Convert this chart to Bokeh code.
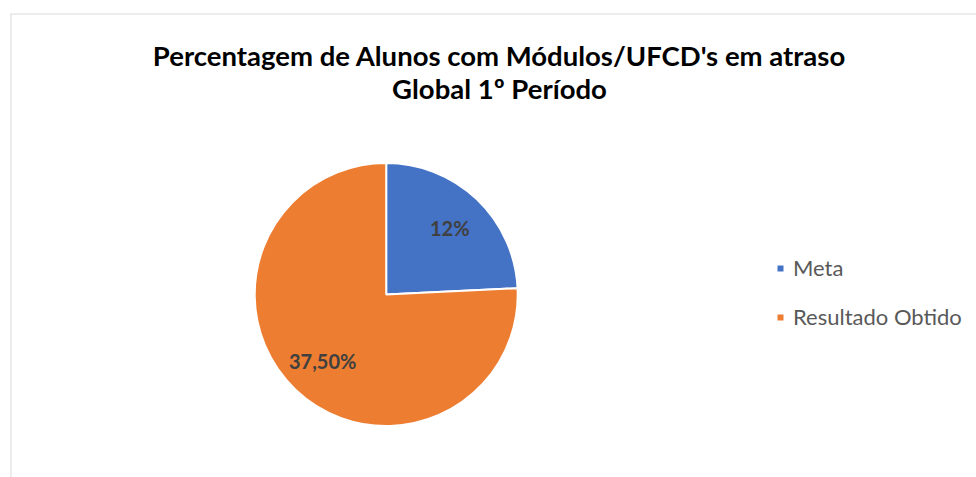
import math
from bokeh.plotting import figure
from bokeh.models import ColumnDataSource, Range1d, Legend, LegendItem, Label, Span
from bokeh.core.properties import value
from bokeh.embed import file_html
from bokeh.resources import INLINE

# ---- data ----
categories = ["Meta", "Resultado Obtido"]
values = [12, 37.5]
labels = ["12%", "37,50%"]
colors = ["#4472C4", "#ED7D31"]
title_lines = ["Percentagem de Alunos com Módulos/UFCD's em atraso", "Global 1º Período"]

FONT = "Lato"
W, H = 976, 477
ML, MT = 10, 13
FW, FH = W - ML, H - MT

p = figure(width=W, height=H, output_backend="svg", toolbar_location=None,
           x_range=Range1d(0, FW), y_range=Range1d(0, FH),
           x_axis_location=None, y_axis_location=None,
           min_border_left=ML, min_border_top=MT, min_border_right=0, min_border_bottom=0)
p.grid.visible = False
p.outline_line_color = None
p.background_fill_color = "white"
p.border_fill_color = "white"

# chart-area border (only left and top edges are visible in the crop)
p.add_layout(Span(location=0, dimension="height", line_color="#d9d9d9", line_width=2))
p.add_layout(Span(location=FH, dimension="width", line_color="#d9d9d9", line_width=2))

# pie geometry (layout)
cx, cy, R = 375.7, FH - 281, 131.5
total = sum(values)
starts, ends, lx, ly = [], [], [], []
a = math.pi / 2
for v in values:
    sweep = 2 * math.pi * v / total
    starts.append(a)
    ends.append(a - sweep)
    mid = a - sweep / 2
    lx.append(cx + 0.7 * R * math.cos(mid))
    ly.append(cy + 0.7 * R * math.sin(mid))
    a -= sweep

src = ColumnDataSource(dict(cat=categories, val=values, lab=labels, color=colors,
                            start=starts, end=ends, x=[cx] * len(values), y=[cy] * len(values),
                            lx=lx, ly=ly))

r = p.wedge(x="x", y="y", radius=R, radius_units="screen", start_angle="start", end_angle="end",
            direction="clock", fill_color="color", line_color="white", line_width=2, source=src)

p.text(x="lx", y="ly", text="lab", source=src, text_align="center", text_baseline="middle",
       text_font=value(FONT), text_font_style="bold", text_font_size="20px", text_color="#404040")

# title
for i, t in enumerate(title_lines):
    p.add_layout(Label(x=489, y=422 - 33 * i, text=t, text_align="center", text_baseline="middle",
                       text_font=FONT, text_font_style="bold", text_font_size="27.5px",
                       text_color="#000000"))

legend = Legend(items=[LegendItem(label=c, renderers=[r], index=i) for i, c in enumerate(categories)],
                location=(765, 147), orientation="vertical",
                glyph_width=10, glyph_height=10, label_standoff=8, spacing=22, label_height=24,
                padding=0, margin=0, border_line_color=None, background_fill_alpha=0,
                label_text_font=FONT, label_text_font_size="22px", label_text_color="#595959")
p.add_layout(legend)

open("out.html", "w").write(file_html(p, INLINE))
